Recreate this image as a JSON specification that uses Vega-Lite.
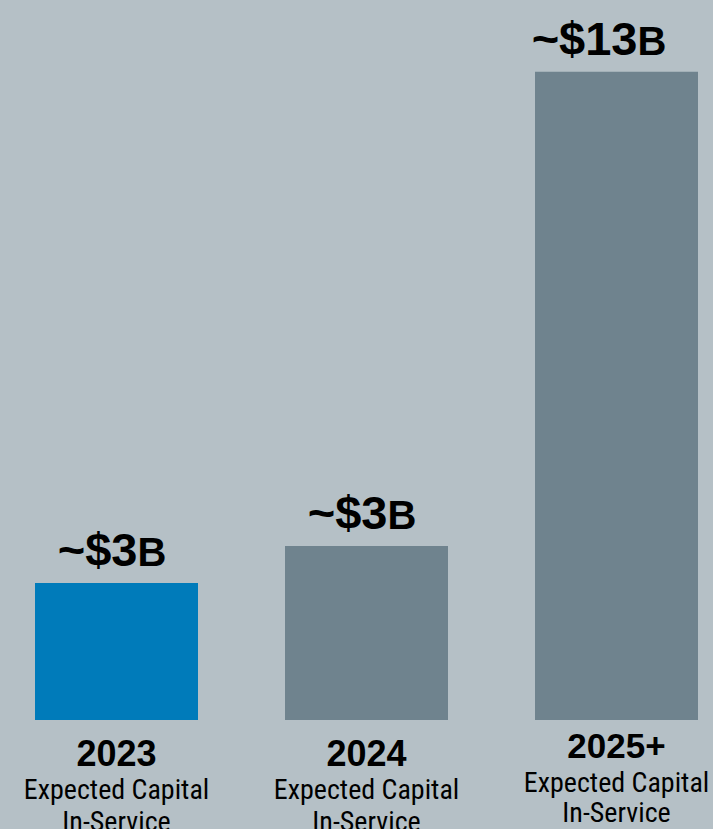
{
  "$schema": "https://vega.github.io/schema/vega-lite/v6.json",
  "width": 713,
  "height": 829,
  "autosize": "none",
  "padding": 0,
  "background": "#b5c0c6",
  "config": {"view": {"stroke": null}},
  "data": {
    "values": [
      {"cat": "2023", "value": 2.75, "amount": "~$3", "unit": "B", "desc": ["Expected Capital", "In-Service"]},
      {"cat": "2024", "value": 3.49, "amount": "~$3", "unit": "B", "desc": ["Expected Capital", "In-Service"]},
      {"cat": "2025+", "value": 13, "amount": "~$13", "unit": "B", "desc": ["Expected Capital", "In-Service"]}
    ]
  },
  "encoding": {
    "x": {
      "field": "cat",
      "type": "nominal",
      "sort": null,
      "axis": null,
      "scale": {"type": "band", "paddingInner": 0.348, "paddingOuter": 0.1, "align": 0.7}
    }
  },
  "layer": [
    {
      "mark": {"type": "bar"},
      "encoding": {
        "y": {"field": "value", "type": "quantitative", "axis": null, "scale": {"domain": [0, 14.44], "range": [720, 0], "nice": false}},
        "color": {"field": "cat", "type": "nominal", "legend": null, "scale": {"domain": ["2023", "2024", "2025+"], "range": ["#007bba", "#6f838e", "#6f838e"]}}
      }
    },
    {
      "mark": {"type": "text", "align": "right", "baseline": "alphabetic", "dx": 21, "dy": -17, "font": "Liberation Sans", "fontWeight": "bold", "fontSize": 47, "color": "#000000"},
      "encoding": {
        "y": {"field": "value", "type": "quantitative"},
        "text": {"field": "amount"}
      }
    },
    {
      "mark": {"type": "text", "align": "left", "baseline": "alphabetic", "dx": 21, "dy": -17, "font": "Liberation Sans", "fontWeight": "bold", "fontSize": 40, "color": "#000000"},
      "encoding": {
        "y": {"field": "value", "type": "quantitative"},
        "text": {"field": "unit"}
      }
    },
    {
      "transform": [{"filter": "datum.cat != '2025+'"}],
      "mark": {"type": "text", "align": "center", "baseline": "alphabetic", "dy": 46, "font": "Liberation Sans", "fontWeight": "bold", "fontSize": 36, "color": "#000000"},
      "encoding": {
        "y": {"datum": 0, "type": "quantitative"},
        "text": {"field": "cat"}
      }
    },
    {
      "transform": [{"filter": "datum.cat == '2025+'"}],
      "mark": {"type": "text", "align": "center", "baseline": "alphabetic", "dy": 38, "font": "Liberation Sans", "fontWeight": "bold", "fontSize": 35, "color": "#000000"},
      "encoding": {
        "y": {"datum": 0, "type": "quantitative"},
        "text": {"field": "cat"}
      }
    },
    {
      "transform": [{"filter": "datum.cat != '2025+'"}],
      "mark": {"type": "text", "align": "center", "baseline": "alphabetic", "dy": 79, "lineHeight": 32, "font": "Roboto Condensed", "fontSize": 28, "color": "#000000"},
      "encoding": {
        "y": {"datum": 0, "type": "quantitative"},
        "text": {"field": "desc"}
      }
    },
    {
      "transform": [{"filter": "datum.cat == '2025+'"}],
      "mark": {"type": "text", "align": "center", "baseline": "alphabetic", "dy": 72, "lineHeight": 30, "font": "Roboto Condensed", "fontSize": 28, "color": "#000000"},
      "encoding": {
        "y": {"datum": 0, "type": "quantitative"},
        "text": {"field": "desc"}
      }
    }
  ]
}
